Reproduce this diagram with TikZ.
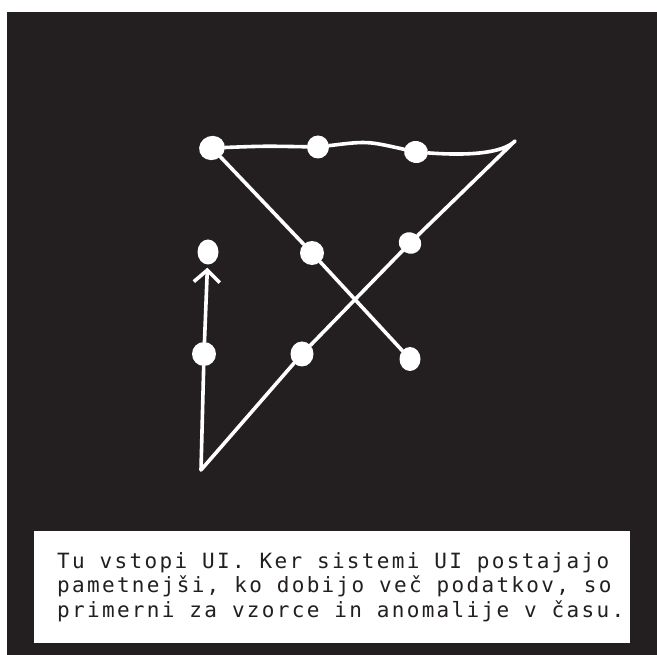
\documentclass[tikz,border=0pt]{standalone}
\usepackage{fontspec}
\newfontfamily\capfont[LetterSpace=11]{DejaVu Sans Mono}
\usetikzlibrary{arrows.meta,shapes.geometric}
\definecolor{ink}{HTML}{231F20}
\begin{document}
\begin{tikzpicture}[x=1pt,y=-1pt,
  dot/.style={ellipse,fill=white,inner sep=0pt},
  link/.style={draw=white,line width=3.6pt,line cap=round,line join=round},
  caption/.style={fill=white,inner sep=0pt,minimum width=596pt,minimum height=112pt,anchor=north west},
  captext/.style={inner sep=0pt,align=left,anchor=north west,text=ink,font=\fontsize{21}{24.5}\capfont}]
\fill[white] (0,0) rectangle (657,655);
\fill[ink] (7,12) rectangle (657,655);
\useasboundingbox (0,0) rectangle (657,655);
% dots
\node[dot,minimum width=26pt,minimum height=24pt,rotate=20] (A) at (212,148) {};
\node[dot,minimum width=22pt,minimum height=23pt] (B) at (318,147) {};
\node[dot,minimum width=24pt,minimum height=22pt,rotate=-10] (C) at (416,152) {};
\node[dot,minimum width=24pt,minimum height=24pt] (E) at (312,253) {};
\node[dot,minimum width=23pt,minimum height=21pt,rotate=-30] (F) at (410,243) {};
\node[dot,minimum width=21pt,minimum height=25pt] (G) at (208,252) {};
\node[dot,minimum width=24pt,minimum height=24pt] (H) at (204,354) {};
\node[dot,minimum width=23pt,minimum height=25pt] (I) at (302,354) {};
\node[dot,minimum width=21pt,minimum height=24pt] (J) at (410,359) {};
\coordinate (D) at (515,141);
\coordinate (K) at (201,470);
% connectors
\draw[link] (A) .. controls (264,146) .. (B);
\draw[link] (B) .. controls (367,141) .. (C);
\draw[link] (C) .. controls (470,156) and (503,153) .. (D) -- (F);
\draw[link] (A) -- (E) -- (J);
\draw[link] (F) -- (I) -- (K) -- (H);
\draw[link,-{Straight Barb[length=12pt,width=26pt]},shorten >=3pt] (H) -- (G);
% caption
\node[caption] (box) at (34,531) {};
\node[captext] (txt) at (57,552) {Tu vstopi UI. Ker sistemi UI postajajo\\pametnejši, ko dobijo več podatkov, so\\primerni za vzorce in anomalije v času.};
\end{tikzpicture}
\end{document}
